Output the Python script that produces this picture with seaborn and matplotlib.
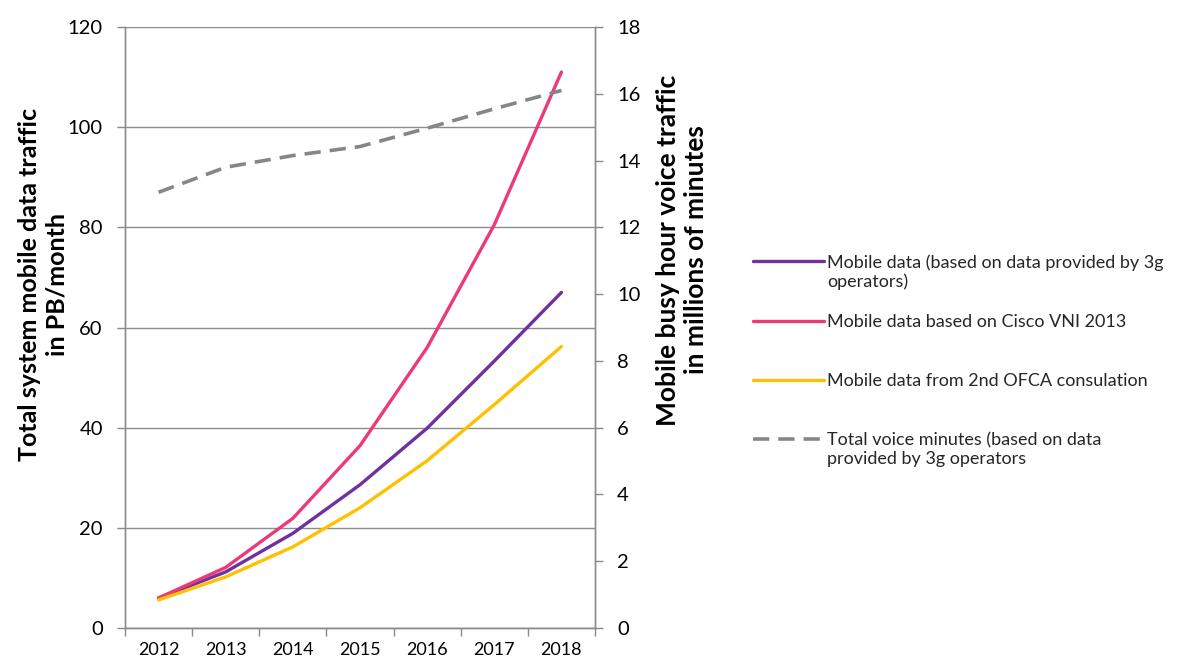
import matplotlib
matplotlib.use("Agg")
import matplotlib.pyplot as plt
import seaborn as sns
import pandas as pd
import numpy as np
from matplotlib.lines import Line2D
from matplotlib.legend_handler import HandlerLine2D

years = ["2012", "2013", "2014", "2015", "2016", "2017", "2018"]
mobile_3g = [6.0, 11.2, 18.9, 28.6, 39.9, 53.3, 67.0]
mobile_cisco = [6.0, 12.1, 21.9, 36.4, 56.0, 80.5, 111.0]
mobile_ofca = [5.6, 10.2, 16.2, 24.0, 33.4, 44.6, 56.2]
voice_minutes = [13.05, 13.8, 14.15, 14.42, 14.97, 15.55, 16.1]

labels = [
    "Mobile data (based on data provided by 3g\noperators)",
    "Mobile data based on Cisco VNI 2013",
    "Mobile data from 2nd OFCA consulation",
    "Total voice minutes (based on data\nprovided by 3g operators",
]
colors = ["#7030A0", "#EC3A78", "#FFC000", "#868686"]

sns.set_theme(style="white")
plt.rcParams["font.family"] = ["Lato", "DejaVu Sans"]

idx = np.arange(len(years))
df = pd.DataFrame({
    "pos": np.tile(idx, 3),
    "value": mobile_3g + mobile_cisco + mobile_ofca,
    "series": [labels[0]] * 7 + [labels[1]] * 7 + [labels[2]] * 7,
})
dv = pd.DataFrame({"pos": idx, "value": voice_minutes})

fig = plt.figure(figsize=(11.77, 6.59), dpi=100)
ax = fig.add_axes([125 / 1177, 1 - 628 / 659, 470 / 1177, 601 / 659])
ax2 = ax.twinx()

sns.lineplot(data=df, x="pos", y="value", hue="series", palette=colors[:3],
             linewidth=2.4, ax=ax, legend=False)
sns.lineplot(data=dv, x="pos", y="value", color=colors[3], linewidth=2.6,
             ax=ax2, legend=False)
ax2.lines[0].set_dashes([4.5, 2.5])

ax.set_xlim(-0.5, len(years) - 0.5)
ax.set_ylim(0, 120)
ax.set_yticks(np.arange(0, 121, 20))
ax2.set_ylim(0, 18)
ax2.set_yticks(np.arange(0, 19, 2))

ax.set_xticks(np.arange(-0.5, len(years), 1.0))
ax.set_xticklabels([])
ax.set_xticks(idx, minor=True)
ax.set_xticklabels(years, minor=True)
ax.tick_params(axis="x", which="major", direction="out", length=6, width=1,
               color="#888888", bottom=True)
ax.tick_params(axis="x", which="minor", length=0, pad=10, labelsize=13, labelcolor="black")
ax.tick_params(axis="y", direction="out", length=6, width=1, color="#888888",
               left=True, labelsize=14.5, pad=10, labelcolor="black")
ax2.tick_params(axis="y", direction="out", length=6, width=1, color="#888888",
                right=True, labelsize=14.5, pad=10, labelcolor="black")

ax.grid(axis="y", color="#8c8c8c", linewidth=1)
ax.grid(axis="x", visible=False)
ax2.grid(False)

for a in (ax, ax2):
    a.spines["top"].set_visible(False)
    for side in ("left", "right", "bottom"):
        a.spines[side].set_color("#8c8c8c")
        a.spines[side].set_linewidth(1)

ax.set_xlabel("")
ax.set_ylabel("Total system mobile data traffic\nin PB/month", fontsize=18,
              fontweight="bold", color="black", linespacing=1.2)
ax.yaxis.set_label_coords(-0.121, 0.571)
ax2.set_ylabel("Mobile busy hour voice traffic\nin millions of minutes", fontsize=19,
               fontweight="bold", color="black", rotation=90, linespacing=1.2)
ax2.yaxis.set_label_coords(1.130, 0.629)


class FirstLineHandler(HandlerLine2D):
    def create_artists(self, legend, orig_handle, xdescent, ydescent, width,
                       height, fontsize, trans):
        arts = super().create_artists(legend, orig_handle, xdescent, ydescent,
                                      width, height, fontsize, trans)
        for a in arts:
            a.set_ydata(np.asarray(a.get_ydata(), dtype=float) + 0.62 * fontsize)
        return arts


leg_labels = [lab if "\n" in lab else lab + "\n " for lab in labels]
handles = [Line2D([], [], color=colors[0], lw=2.4),
           Line2D([], [], color=colors[1], lw=2.4),
           Line2D([], [], color=colors[2], lw=2.4),
           Line2D([], [], color=colors[3], lw=2.6, dashes=[4.5, 2.5])]
fig.legend(handles, leg_labels, loc="upper left", bbox_to_anchor=(746 / 1177, 1 - 247 / 659),
           frameon=False, fontsize=13, handlelength=3.9, handletextpad=0.2,
           labelspacing=1.35, borderaxespad=0,
           handler_map={Line2D: FirstLineHandler()})

fig.savefig("out.png", dpi=100)
